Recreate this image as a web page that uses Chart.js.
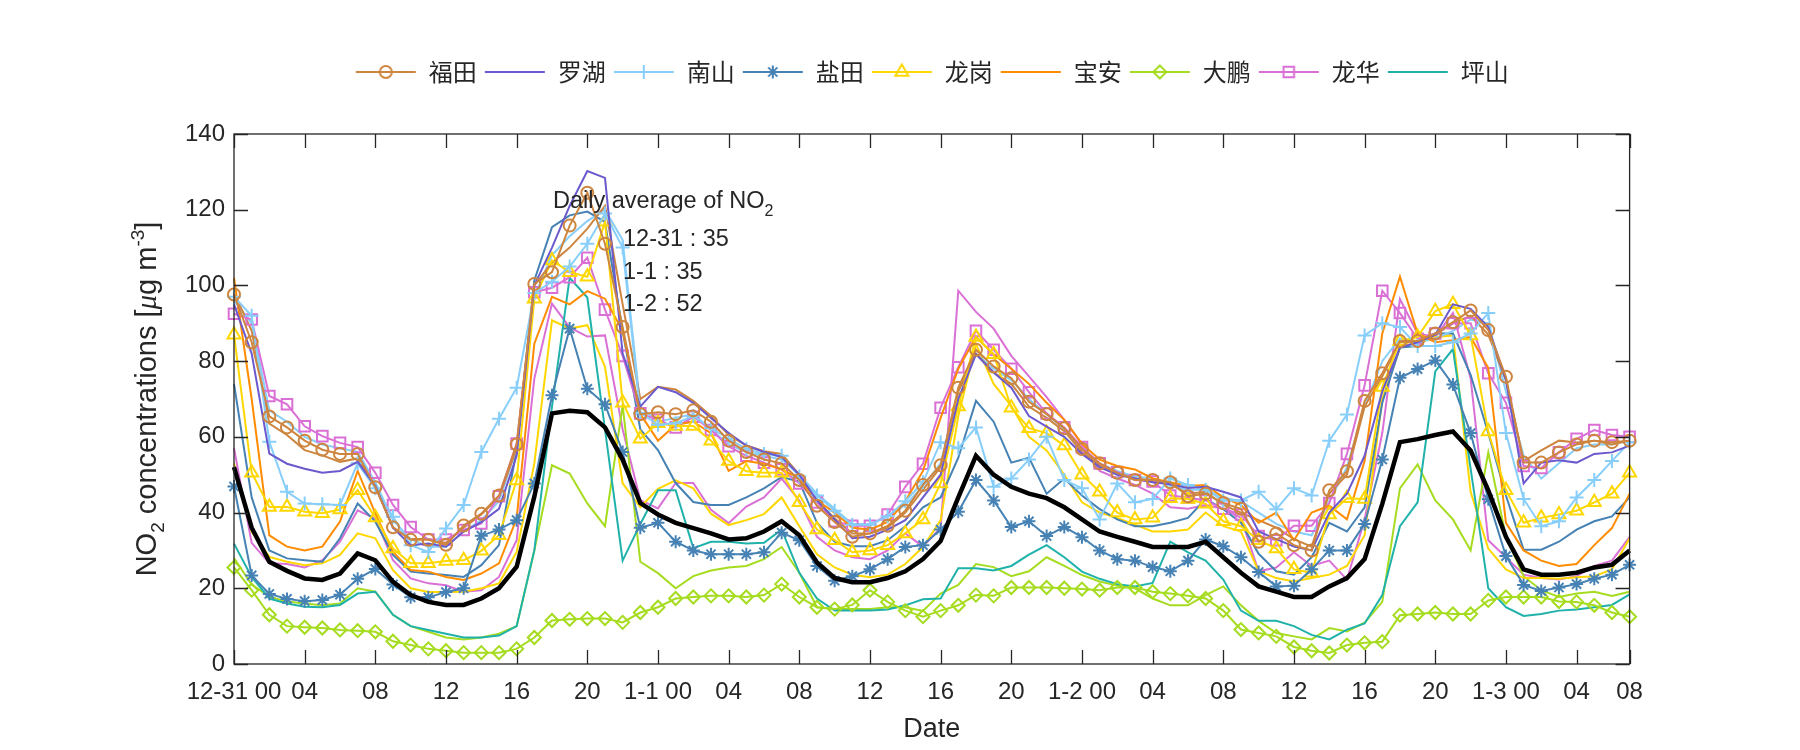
<!DOCTYPE html>
<html>
<head>
<meta charset="utf-8">
<title>NO2 concentrations</title>
<script src="https://cdn.jsdelivr.net/npm/chart.js@4.4.1/dist/chart.umd.min.js"></script>
<style>
  html, body { margin: 0; padding: 0; background: #ffffff; }
  canvas { display: block; }
</style>
</head>
<body>
<canvas id="no2Chart" width="1800" height="750"></canvas>
<script>
// hour index from 12-31 00 (80 hourly samples)
const hours = Array.from({ length: 80 }, (_, i) => i);

// x tick positions and their labels
const tickPos = [0, 4, 8, 12, 16, 20, 24, 28, 32, 36, 40, 44, 48, 52, 56, 60, 64, 68, 72, 76, 79];
const tickText = ["12-31 00", "04", "08", "12", "16", "20", "1-1 00", "04", "08", "12", "16", "20",
  "1-2 00", "04", "08", "12", "16", "20", "1-3 00", "04", "08"];

// district series (ug/m3)
const futian = [97.6, 85, 65.4, 62.5, 59, 56.6, 55.5, 55.5, 46.7, 36.1, 32.8, 32.8, 31.5, 36.6, 39.7, 44.5, 58, 100.4, 103.5, 115.8,
  124.5, 111, 89, 66, 66.5, 66, 67, 64, 59, 56, 54, 53, 48.6, 41.8, 37.5, 33.6, 34.5, 36.5, 40.5, 47.3,
  52.5, 73, 83, 78.6, 75.5, 69.3, 66, 62.3, 56.8, 53, 50.5, 48.6, 48.6, 48, 44.3, 45, 42.5, 41, 32.3, 34.5,
  31.4, 30, 45.9, 50.9, 69.5, 76.8, 85.3, 85.3, 87.3, 90.3, 93.4, 88.2, 75.9, 53.2, 53.2, 55.9, 58, 59, 58.6, 59];
const luohu = [95, 82, 55.6, 52.9, 51.6, 50.5, 51, 53.4, 47, 36, 31.4, 31.8, 31, 35, 37.5, 41, 55, 100, 110, 121,
  130.2, 128.4, 82, 68, 73.2, 71.8, 69, 65, 61, 57.7, 56, 54.7, 50, 43.2, 38.2, 33.2, 33.6, 35.5, 38, 44,
  50, 70, 81.8, 77, 73, 65.5, 62.7, 60, 55.5, 52, 50, 49, 48, 47.5, 46.5, 46.8, 45.5, 44, 35, 33,
  31, 30, 40, 45, 55, 72, 83.6, 85, 87, 95, 93.8, 89, 75, 47.7, 53.2, 53.8, 53.2, 55.5, 55.9, 57.7];
const nanshan = [97, 92, 58.7, 45.5, 42.4, 42.2, 42, 53, 46.4, 38.9, 31.4, 29.6, 35.8, 42, 56, 64.8, 73, 98, 101, 105,
  111, 119, 110, 66.4, 63.2, 63.6, 65.5, 62.3, 59.5, 56.8, 55.5, 55, 49.5, 44.5, 40.5, 36.8, 36.8, 39, 43, 48,
  58.6, 57, 62.5, 46.8, 49, 54, 60, 48.6, 46.4, 38.2, 47.7, 42.7, 43.6, 49, 47.3, 46, 43.2, 43.2, 45.5, 40.9,
  46.4, 44.5, 59, 65.9, 86.8, 90, 89, 84, 84, 85, 87.3, 92.7, 61, 43.6, 36.4, 37.7, 44, 48.6, 53.6, 58.6];
const yantian = [46.9, 23.4, 18.5, 17.2, 16.6, 16.9, 18.3, 22.5, 25.1, 21, 17.6, 17.6, 19, 20, 33.9, 35.5, 38, 47.7, 71, 88.6,
  72.7, 68.6, 56, 36, 37.3, 32.3, 30, 29, 29, 29, 29.5, 34.7, 32.7, 25.9, 22, 23.2, 25, 27.7, 30.9, 31.4,
  35.5, 40.2, 48.6, 43.2, 36.2, 37.7, 33.8, 36.2, 33.5, 30, 27.7, 27.3, 25.6, 24.5, 27.3, 32.9, 31.1, 28.2, 24.3, 20.5,
  20.7, 25, 30, 30, 37, 54, 75.6, 77.9, 80.2, 73.8, 61, 43.5, 28.5, 20.9, 19.3, 20.2, 21.1, 22.5, 23.6, 26.2];
const longgang = [87, 50.5, 41.5, 41.5, 40.2, 39.8, 40.8, 45.9, 38.7, 30.5, 26.6, 26.6, 27.2, 27.4, 29.9, 34, 48.5, 96.5, 106.6, 103.5,
  102.3, 116.8, 69, 59.5, 63.6, 62.9, 62.9, 59, 53.6, 50.9, 50.5, 50.5, 42.7, 35.5, 32.7, 29.5, 30, 31.4, 34.5, 38.2,
  47.7, 68, 86.4, 81.8, 67.7, 62.3, 61, 57.7, 50, 45.5, 40, 38.2, 38.6, 43.8, 43.6, 42.3, 37.7, 36.4, 32.7, 30.5,
  25, 24.1, 39.5, 43.8, 43.6, 73.2, 85.3, 86.4, 93.2, 95, 86.8, 61.4, 45.9, 37.3, 38.6, 39.5, 40.5, 42.7, 45, 50.5];
const baoan = [102, 70, 34, 31, 30, 31, 37.6, 51, 39.8, 29.6, 24.8, 24.4, 23, 22.2, 23.9, 26.6, 38.4, 84.6, 97, 95,
  98.5, 96.5, 88, 66, 59, 63.2, 64, 61, 51, 53.6, 52.9, 51.4, 49, 43.2, 40, 36, 35.5, 37.5, 43, 51,
  65, 78, 86.4, 81.8, 78, 74, 69, 64.5, 58.2, 54, 52.3, 51.4, 49, 48, 47, 47.3, 44, 42, 37.3, 40,
  32.7, 40, 41.8, 38.2, 53.6, 87.3, 102.3, 87.3, 85, 85.5, 86.4, 78.2, 37.3, 30, 27.3, 25.9, 26.4, 31.4, 35.9, 45];
const dapeng = [25.5, 19.5, 13, 10, 9.7, 9.5, 9, 8.8, 8.5, 6, 5, 4, 3.5, 3, 3, 3, 4, 7, 11.5, 11.8,
  12, 12, 11, 13.6, 15, 17.3, 17.7, 18, 18, 17.7, 18.2, 21.1, 17.7, 15, 14.5, 15.6, 19.5, 16.4, 14.1, 12.5,
  14.1, 15.5, 18.2, 18, 20.2, 20.2, 20.2, 20, 19.8, 19.5, 20.2, 20.2, 19.1, 18.6, 18, 17.3, 14.1, 9.1, 8.2, 7.3,
  4.5, 3.5, 2.9, 5, 5.6, 5.9, 12.9, 13.2, 13.6, 13.2, 13.2, 16.8, 17.7, 17.7, 17.7, 16.5, 16.4, 15.5, 13.6, 12.5];
const longhua = [92.5, 91, 70.8, 68.6, 62.8, 60.2, 58.4, 57.3, 50.5, 42, 36.2, 32.9, 32.9, 35.4, 37.1, 44.3, 58.2, 98.2, 99.4, 102.2,
  107.3, 93.6, 81.4, 66.2, 64.5, 62.5, 65.3, 61.8, 57.5, 55, 53.2, 51.4, 47.7, 42.7, 37.7, 36.5, 36.5, 39.5, 46.8, 52.9,
  67.7, 78.4, 88, 83, 78, 71.8, 66.2, 62.5, 57.3, 53, 50.7, 48.6, 48.2, 44.5, 44, 43.2, 41, 39.5, 33.8, 32.7,
  36.5, 36.5, 42.5, 55.5, 73.6, 98.6, 92.7, 85.9, 87.3, 90, 90, 76.8, 69, 52.3, 51.8, 55.9, 59.5, 61.8, 60.5, 60];
const pingshan = [31.8, 23, 17.3, 16, 15.1, 15, 15.6, 18.6, 19.1, 13, 10, 9, 8, 7, 7, 7.5, 10, 30, 68, 102,
  96.8, 62, 27.3, 37, 45.9, 45.9, 30.6, 32.3, 32.3, 31.8, 32, 35.5, 24.1, 17.3, 14.1, 14.1, 14.1, 14.4, 15.5, 17.1,
  17.3, 25.3, 25.3, 24.7, 25.9, 28.9, 31.4, 28.2, 24.4, 22.5, 21.1, 20.5, 21.4, 32.3, 29.5, 27.3, 22.3, 14.1, 11.4, 11.4,
  10, 7.7, 6.5, 9.1, 10.7, 18.2, 36.4, 42.7, 77.3, 83.2, 51.6, 20, 15, 12.7, 13.2, 14.1, 14.4, 15, 15.6, 18.4];

// second station of some districts (drawn without markers)
const futian2 = [98, 88, 63.5, 60.5, 56.5, 55.1, 53.4, 54.3, 47, 36, 33, 33, 32, 36, 39.5, 44, 57, 100, 106, 110,
  115, 121, 95, 70, 73.2, 72.5, 69.5, 65.5, 60.5, 57.7, 56.2, 55.5, 50, 43, 38.5, 34.5, 34.5, 36, 40, 46,
  52, 72, 82, 77, 74, 68, 65, 61.5, 56, 52.5, 50.5, 49, 48.5, 47.5, 45, 45.5, 42, 40, 38, 36,
  33, 31, 45, 50, 68, 76, 85, 85, 87, 90, 92, 87, 75, 53.6, 56.4, 59, 58.5, 59, 58, 59];
const nanshan2 = [96, 90, 67, 64, 60, 58, 57, 56, 48, 38, 33, 31, 31, 35, 38, 43, 57, 97, 108, 113,
  117, 120, 112, 68, 64, 65, 66, 62, 58, 56, 55, 54, 50, 45, 41, 37, 37, 39, 42, 47,
  53, 72, 82, 78, 75, 70, 66, 62, 57, 53, 51, 49.5, 49, 47, 46, 46, 44, 43, 40, 37,
  35, 34, 43, 52, 68, 80, 86, 85, 86, 88, 91, 90, 72, 55, 49, 53, 57, 58, 58, 59];
const yantian2 = [74, 44, 30, 27.9, 27.4, 27, 33.2, 42.4, 37.6, 28.8, 24.4, 23.9, 23.5, 23, 26.1, 31.4, 56.5, 101.3, 115.4, 118.5,
  119.5, 116.8, 88, 62, 56.5, 47.8, 42.8, 42, 42, 44, 46.4, 49.4, 48.2, 37.3, 32.3, 31.1, 31.1, 32.7, 36.4, 41.4,
  44, 54.5, 69.5, 64, 53.2, 54.5, 45, 49, 44.5, 40.9, 38.2, 36.4, 36.4, 37.3, 38.6, 43.6, 40.9, 37.3, 29.1, 24.5,
  23.6, 28.2, 37.3, 35, 41.4, 69, 83.6, 84, 87.3, 87.3, 76.4, 61, 44.5, 30.2, 30.2, 32.3, 35.5, 37.7, 39, 44];
const longgang2 = [53, 35, 28.3, 27, 26.1, 26.6, 28.8, 34.5, 33.2, 24.8, 20, 19, 19, 19.1, 20, 21.3, 29.6, 53, 90.8, 88.6,
  89.5, 78.5, 47.7, 41.4, 46.3, 48.5, 46.4, 39.7, 36.7, 38, 39.6, 44, 36.4, 29, 25.5, 23.6, 22.9, 23.6, 26.4, 30.9,
  38, 65.5, 84.5, 74, 68.2, 60, 56.4, 50, 42.7, 40, 38.6, 36.8, 35, 35, 35.5, 40, 36.4, 35, 24.5, 22.7,
  21.8, 22.7, 23.6, 25.9, 34, 70, 83.5, 86.8, 86.4, 86.8, 45.5, 30.5, 25, 22.7, 22.7, 22.5, 22.9, 23.2, 25, 33.2];
const longhua2 = [57, 32, 26.6, 26.4, 25.5, 27.4, 32.3, 40.6, 38.4, 27.4, 22.6, 21.3, 20.8, 19.1, 19.5, 23, 32.7, 75.4, 95.2, 88.9,
  86.5, 86.8, 62, 43.3, 41.1, 47.8, 47.8, 40.7, 37.2, 41.6, 44, 49, 43.2, 33.6, 30, 28.2, 27.7, 30, 34.5, 31,
  36, 98.6, 93, 88.6, 81.4, 76, 70.5, 64.5, 58, 51, 49, 47.3, 45, 41.4, 41, 42, 41, 38.6, 24.5, 25.5,
  29.5, 25.9, 27.3, 22.3, 38.2, 61, 96.4, 87.3, 86.4, 92.7, 75.5, 32.7, 28.2, 23.6, 22.7, 22.3, 23.2, 25.9, 27.3, 33.6];
const dapeng2 = [28, 21, 17.8, 16.5, 16, 15.5, 16, 20, 19.1, 13, 10, 8.5, 7, 6.5, 7, 8, 10, 30, 52.5, 50.3,
  42.4, 36.4, 68.3, 27, 24, 20, 23.2, 24.7, 25.5, 25.9, 27.7, 30.9, 24.1, 15, 14.5, 14.5, 14.5, 15, 15, 14,
  18.6, 20.9, 26.4, 25.6, 23.2, 24.5, 28.2, 25.9, 23.5, 21.8, 20.7, 20, 17.3, 15.5, 15.5, 18.2, 20.5, 15.5, 11.4, 8.2,
  7.3, 6.5, 9.5, 8.6, 10.9, 16.4, 46.4, 52.7, 43.2, 38.2, 30, 55.9, 33.6, 23.2, 19.5, 17.7, 18.6, 19.1, 18, 19.1];

// city mean (thick black)
const average = [52, 36, 27, 24.6, 22.6, 22.2, 23.9, 29.2, 27.4, 21.7, 18.2, 16.4, 15.6, 15.6, 17.3, 20, 25.7, 44.2, 66.2, 66.9,
  66.5, 62.5, 54, 42.5, 39.5, 37.3, 35.9, 34.5, 32.9, 33.2, 35, 37.7, 34, 26.8, 22.7, 21.6, 21.6, 22.7, 24.5, 27.7,
  32.5, 44, 55, 50, 46.8, 45, 43.8, 41.4, 38.2, 35, 33.6, 32.3, 30.9, 30.9, 30.9, 32.3, 28.2, 24.1, 20.5, 19.1,
  17.7, 17.7, 20.5, 22.7, 27.7, 42.3, 58.6, 59.4, 60.5, 61.4, 56.4, 45.9, 33.6, 25, 23.6, 23.6, 24.1, 25.5, 26.2, 30];

const dailyLines = ["12-31 : 35", "1-1 : 35", "1-2 : 52"];

const stations = ["福田", "罗湖", "南山", "盐田", "龙岗", "宝安", "大鹏", "龙华", "坪山"];
const colors = ["#CD853F", "#6A5ACD", "#87CEFA", "#4682B4", "#FFD700", "#FF8C00", "#A6DC1F", "#DA70D6", "#20B2AA"];
const markers = ["circle", null, "cross", "star", "triangle", null, "rectRot", "rect", null];
const mainData = [futian, luohu, nanshan, yantian, longgang, baoan, dapeng, longhua, pingshan];
const extraData = [[0, futian2], [2, nanshan2], [3, yantian2], [4, longgang2], [6, dapeng2], [7, longhua2]];

const textColor = "#262626";
const sansFont = "'Liberation Sans', Arial, sans-serif";
const markerRadius = { circle: 6, cross: 7, star: 6.5, triangle: 7.5, rectRot: 6.5, rect: 7.5 };

// legend sample: short line with the marker in the middle
function legendIcon(color, marker) {
  const c = document.createElement("canvas");
  c.width = 62;
  c.height = 24;
  const g = c.getContext("2d");
  g.strokeStyle = color;
  g.lineWidth = 2;
  g.beginPath();
  g.moveTo(1, 12);
  g.lineTo(61, 12);
  g.stroke();
  if (marker) {
    g.fillStyle = "rgba(0,0,0,0)";
    Chart.helpers.drawPoint(g, { pointStyle: marker, radius: markerRadius[marker], rotation: 0, borderWidth: 2 }, 31, 12);
  }
  return c;
}

const datasets = [
  {
    label: "mean",
    data: average,
    borderColor: "#000000",
    borderWidth: 4.5,
    pointRadius: 0,
    skipLegend: true,
  },
];
stations.forEach((name, i) => {
  const m = markers[i];
  datasets.push({
    label: name,
    data: mainData[i],
    borderColor: colors[i],
    borderWidth: 2,
    pointStyle: m || "circle",
    pointRadius: m ? markerRadius[m] : 0,
    pointBorderWidth: 2,
    pointBorderColor: colors[i],
    pointBackgroundColor: "rgba(0,0,0,0)",
    legendIcon: legendIcon(colors[i], m),
  });
});
extraData.forEach(([i, data]) => {
  datasets.push({
    label: stations[i] + " 2",
    data: data,
    borderColor: colors[i],
    borderWidth: 2,
    pointRadius: 0,
    skipLegend: true,
  });
});

// rich text helpers (sub/superscripts)
function richWidth(ctx, parts) {
  let w = 0;
  parts.forEach((p) => {
    ctx.font = p.font;
    w += ctx.measureText(p.text).width;
  });
  return w;
}
function drawRich(ctx, parts, x, y) {
  let cx = x;
  parts.forEach((p) => {
    ctx.font = p.font;
    ctx.fillText(p.text, cx, y + (p.dy || 0));
    cx += ctx.measureText(p.text).width;
  });
}

const big = "29px " + sansFont;
const small = "19px " + sansFont;
const annot = "23.5px " + sansFont;
const annotSmall = "16px " + sansFont;

// MATLAB-like box with inward ticks on all sides
const axesBox = {
  id: "axesBox",
  afterDatasetsDraw(chart) {
    const { ctx, chartArea: a, scales } = chart;
    const tl = 14;
    ctx.save();
    ctx.strokeStyle = textColor;
    ctx.lineWidth = 1.3;
    ctx.beginPath();
    scales.x.ticks.forEach((t) => {
      const px = Math.round(scales.x.getPixelForValue(t.value)) + 0.5;
      ctx.moveTo(px, a.bottom);
      ctx.lineTo(px, a.bottom - tl);
      ctx.moveTo(px, a.top);
      ctx.lineTo(px, a.top + tl);
    });
    scales.y.ticks.forEach((t) => {
      const py = Math.round(scales.y.getPixelForValue(t.value)) + 0.5;
      ctx.moveTo(a.left, py);
      ctx.lineTo(a.left + tl, py);
      ctx.moveTo(a.right, py);
      ctx.lineTo(a.right - tl, py);
    });
    ctx.stroke();
    ctx.strokeRect(a.left, a.top, a.right - a.left, a.bottom - a.top);
    ctx.restore();
  },
  afterDraw(chart) {
    const { ctx, chartArea: a } = chart;
    ctx.save();
    ctx.fillStyle = textColor;
    ctx.textBaseline = "alphabetic";
    ctx.textAlign = "left";

    // y axis title, rotated
    const yTitle = [
      { text: "NO", font: big },
      { text: "2", font: small, dy: 8 },
      { text: " concentrations [", font: big },
      { text: "μ", font: "italic 29px 'Liberation Serif', serif" },
      { text: "g m", font: big },
      { text: "-3", font: small, dy: -12 },
      { text: "]", font: big },
    ];
    const w = richWidth(ctx, yTitle);
    ctx.save();
    ctx.translate(156, (a.top + a.bottom) / 2);
    ctx.rotate(-Math.PI / 2);
    drawRich(ctx, yTitle, -w / 2, 0);
    ctx.restore();

    // daily average annotation
    drawRich(ctx, [
      { text: "Daily average of NO", font: annot },
      { text: "2", font: annotSmall, dy: 8 },
    ], 553, 208);
    ctx.font = annot;
    dailyLines.forEach((t, i) => ctx.fillText(t, 623, 246 + i * 32.5));
    ctx.restore();
  },
};

// pin legend height and put the row centred over the plot box
const legendPlacement = {
  id: "legendPlacement",
  beforeInit(chart) {
    const fitValue = chart.legend.fit;
    chart.legend.fit = function fit() {
      fitValue.bind(chart.legend)();
      this.height = 134;
    };
  },
  afterLayout(chart) {
    const lg = chart.legend;
    lg.left = chart.chartArea.left;
    lg.right = chart.chartArea.right;
    lg.top = 53;
  },
};

Chart.defaults.color = textColor;
Chart.defaults.font.family = sansFont;

const ctxNo2 = document.getElementById("no2Chart").getContext("2d");
const no2Chart = new Chart(ctxNo2, {
  type: "line",
  data: { labels: hours, datasets: datasets },
  options: {
    responsive: false,
    animation: false,
    devicePixelRatio: 1,
    events: [],
    layout: { padding: { left: 0, right: 170.4, top: 0, bottom: 0 } },
    elements: { line: { tension: 0 } },
    datasets: { line: { clip: false } },
    plugins: {
      tooltip: { enabled: false },
      legend: {
        position: "top",
        labels: {
          usePointStyle: true,
          pointStyleWidth: 62,
          padding: 7,
          color: textColor,
          font: { family: "'Noto Sans CJK SC', sans-serif", size: 24 },
          generateLabels(chart) {
            const items = Chart.defaults.plugins.legend.labels.generateLabels(chart);
            items.forEach((it) => {
              it.pointStyle = chart.data.datasets[it.datasetIndex].legendIcon;
            });
            return items;
          },
          filter: (item, data) => !data.datasets[item.datasetIndex].skipLegend,
        },
      },
    },
    scales: {
      x: {
        type: "linear",
        min: 0,
        max: 79,
        grid: { display: false, drawTicks: false },
        border: { display: false },
        afterBuildTicks: (scale) => {
          scale.ticks = tickPos.map((v) => ({ value: v }));
        },
        afterFit: (scale) => {
          scale.height = 86;
        },
        ticks: {
          autoSkip: false,
          maxRotation: 0,
          minRotation: 0,
          padding: 14,
          font: { size: 24 },
          color: textColor,
          callback: (value) => tickText[tickPos.indexOf(value)],
        },
        title: {
          display: true,
          text: "Date",
          color: textColor,
          font: { size: 27 },
          padding: { top: 0, bottom: 4 },
        },
      },
      y: {
        min: 0,
        max: 140,
        grid: { display: false, drawTicks: false },
        border: { display: false },
        afterFit: (scale) => {
          scale.width = 234;
        },
        ticks: {
          stepSize: 20,
          padding: 9,
          font: { size: 24 },
          color: textColor,
        },
      },
    },
  },
  plugins: [legendPlacement, axesBox],
});
</script>
</body>
</html>
